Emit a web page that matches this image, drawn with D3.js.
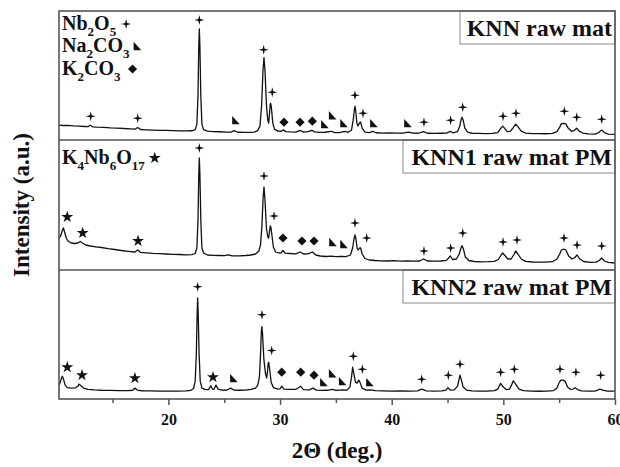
<!DOCTYPE html>
<html>
<head>
<meta charset="utf-8">
<script src="https://cdn.jsdelivr.net/npm/d3@7"></script>
<style>
  body { margin: 0; background: #fff; }
  svg { display: block; font-family: "Liberation Serif", "Times New Roman", serif; font-weight: bold; }
</style>
</head>
<body>
<svg id="chart" width="620" height="467"></svg>
<script>
// XRD patterns, [2theta, intensity a.u.]
var knnRaw = [[10.2,15],[10.6,14.6],[11.0,14.8],[11.5,14.2],[12.0,13.9],[12.5,13.6],[12.8,13.4],[13.0,14.8],[13.2,13.3],[13.6,12.9],[14.2,12.8],[14.8,12.3],[15.4,12.0],[16.0,11.6],[16.6,11.2],[17.0,10.9],[17.25,12.6],[17.5,10.6],[18.0,10.3],[18.6,10.0],[19.2,9.8],[19.8,9.6],[20.4,9.4],[21.0,9.2],[21.6,9.1],[22.1,9.3],[22.4,10.5],[22.55,16],[22.65,45],[22.72,95],[22.77,112],[22.82,95],[22.9,45],[23.0,16],[23.15,10.5],[23.5,9],[24.0,8.5],[24.6,8.3],[25.2,8.0],[25.6,8.0],[25.9,9.4],[26.2,7.8],[26.8,7.6],[27.3,7.6],[27.7,8.0],[28.0,9.5],[28.2,14],[28.35,35],[28.47,70],[28.56,83],[28.65,70],[28.78,35],[28.9,20],[28.98,17],[29.05,26],[29.12,36],[29.16,37],[29.22,33],[29.35,17],[29.5,11],[29.8,9],[30.1,8.8],[30.3,10.2],[30.5,8.5],[30.9,8.2],[31.4,8.0],[31.8,9.6],[32.1,8.0],[32.5,8.4],[32.85,9.8],[33.1,8.2],[33.5,7.6],[34.0,7.8],[34.6,8.8],[34.9,7.5],[35.3,7.4],[35.8,8.6],[36.1,7.8],[36.4,10],[36.55,20],[36.65,30],[36.71,34],[36.78,29],[36.88,17],[36.98,14],[37.1,17],[37.22,18],[37.35,12],[37.6,8],[38.0,7.4],[38.3,8.6],[38.6,7.3],[39.2,7.0],[39.8,7.2],[40.4,6.9],[41.0,7.0],[41.5,8.0],[41.9,6.9],[42.4,6.8],[42.85,8.4],[43.2,6.8],[43.8,6.7],[44.4,6.8],[44.9,7.0],[45.25,8.6],[45.5,7.2],[45.9,8.5],[46.1,14],[46.22,21],[46.3,23],[46.4,20],[46.55,12],[46.8,8],[47.2,6.8],[47.8,6.6],[48.4,6.5],[49.0,6.6],[49.5,7.5],[49.75,11.5],[49.94,14],[50.1,12],[50.35,8.5],[50.6,8.6],[50.85,12],[51.1,16],[51.3,13.5],[51.6,9],[52.0,7],[52.6,6.5],[53.2,6.4],[53.8,6.3],[54.4,6.6],[54.8,8.5],[55.05,13],[55.2,16.5],[55.4,16.8],[55.6,16.2],[55.8,12],[56.1,8.8],[56.35,9.5],[56.57,12],[56.8,9],[57.1,7],[57.6,6.2],[58.2,6.0],[58.55,7.5],[58.8,10],[59.05,7.5],[59.4,6.0],[60,5.6]];

var knn1RawPM = [[10.2,32],[10.35,34],[10.48,39],[10.59,42],[10.7,38],[10.85,32],[11.0,29],[11.3,27],[11.6,26.5],[11.9,27],[12.1,28.5],[12.3,27],[12.6,25],[13.0,24],[13.5,23.2],[14.0,22.5],[14.6,21.4],[15.2,20.5],[15.8,19.5],[16.4,18.7],[17.0,18.0],[17.25,20],[17.5,17.6],[18.0,17.2],[18.6,16.6],[19.2,16.3],[19.8,16.0],[20.4,15.6],[21.0,15.5],[21.6,15.2],[22.1,15.4],[22.4,16.5],[22.55,22],[22.65,50],[22.72,96],[22.77,112],[22.82,96],[22.9,50],[23.0,22],[23.15,17],[23.5,15],[24.0,14.7],[24.6,14.5],[25.0,14.3],[25.4,15.2],[25.7,14.2],[26.3,14.2],[26.9,14.5],[27.4,15],[27.8,16],[28.1,19],[28.25,25],[28.38,45],[28.48,72],[28.56,83],[28.65,70],[28.78,42],[28.9,33],[28.98,32],[29.05,38],[29.12,44],[29.18,43],[29.28,34],[29.4,23],[29.6,18],[29.9,17],[30.1,17.2],[30.25,19.5],[30.45,16.8],[30.9,16.5],[31.4,16.2],[31.8,18],[32.1,16],[32.5,16.2],[32.9,18],[33.2,15],[33.6,14],[34.1,13.5],[34.6,13.8],[35.0,13.3],[35.5,13.6],[35.9,13.4],[36.3,15],[36.5,22],[36.62,31],[36.71,35],[36.8,31],[36.9,22],[37.0,20],[37.12,22],[37.22,22],[37.35,16],[37.6,11.5],[38.0,10],[38.5,9.5],[39.0,9.2],[39.6,9.0],[40.2,9.3],[40.8,8.9],[41.4,9.1],[42.0,8.9],[42.5,9.0],[42.85,11],[43.2,9],[43.8,8.8],[44.4,9.0],[44.9,9.6],[45.25,14],[45.45,10.5],[45.8,11],[46.05,16],[46.2,22],[46.3,24.3],[46.42,21],[46.6,13],[46.9,9.5],[47.4,8.5],[48.0,8.2],[48.6,8.3],[49.2,8.6],[49.55,10.5],[49.8,15],[49.94,17],[50.1,15],[50.4,11],[50.7,11],[50.95,15.5],[51.1,19],[51.3,16],[51.6,11],[52.0,8.6],[52.6,8],[53.2,7.8],[53.8,7.9],[54.4,8.3],[54.8,11],[55.05,16],[55.2,20],[55.4,21],[55.6,20],[55.85,14],[56.15,11],[56.4,12.5],[56.6,15],[56.85,11],[57.2,8.5],[57.8,7.6],[58.3,7.8],[58.6,9.5],[58.8,12],[59.05,9],[59.4,7.6],[60,7]];

var knn2RawPM = [[10.2,14],[10.32,17],[10.42,21],[10.5,23],[10.6,20],[10.75,14],[10.95,11.5],[11.3,11],[11.7,11.3],[11.9,13],[12.0,15],[12.15,13.5],[12.4,11],[12.8,9.8],[13.4,9.2],[14.0,8.8],[14.8,8.6],[15.6,8.4],[16.4,8.4],[16.8,8.8],[17.0,11],[17.2,9],[17.6,8.3],[18.4,8.2],[19.2,8.0],[20.0,8.0],[20.8,8.0],[21.6,8.2],[22.0,8.6],[22.25,10.5],[22.4,18],[22.5,45],[22.57,85],[22.62,102],[22.67,85],[22.75,45],[22.85,18],[23.0,11],[23.3,9.5],[23.6,9.5],[23.79,13.3],[23.95,9.8],[24.1,10],[24.26,14],[24.45,10],[24.8,9],[25.2,8.8],[25.58,11],[25.85,9],[26.3,8.8],[26.9,9],[27.4,9.6],[27.8,11],[28.0,14],[28.15,22],[28.25,45],[28.32,67],[28.37,73],[28.43,66],[28.55,40],[28.7,25],[28.8,21],[28.87,27],[28.93,36],[28.98,37],[29.06,31],[29.2,17],[29.4,11.5],[29.8,10],[30.0,10.3],[30.15,13],[30.35,10],[30.8,9.6],[31.4,9.6],[31.85,12.8],[32.1,9.5],[32.6,9.2],[32.95,11],[33.25,9],[33.7,8.6],[34.2,8.8],[34.7,9.8],[35.0,8.6],[35.6,9.2],[36.0,9],[36.25,12],[36.4,22],[36.5,32],[36.6,26],[36.75,17],[36.9,16],[37.05,19],[37.15,17],[37.35,11],[37.7,9],[38.1,9.2],[38.5,8.5],[39.2,8.2],[40.0,8.0],[40.8,8.2],[41.6,8.0],[42.3,8.2],[42.71,10],[43.1,8.2],[43.8,8],[44.5,8.2],[44.85,9],[45.04,11.3],[45.25,9],[45.6,9.2],[45.9,13],[46.02,19],[46.12,24],[46.22,20],[46.4,12],[46.7,9],[47.2,8.2],[47.8,8],[48.5,8],[49.2,8.4],[49.5,10],[49.76,15.7],[49.95,12.5],[50.25,9.5],[50.55,10],[50.75,14.5],[50.89,18.3],[51.1,15],[51.4,10],[51.8,8.4],[52.5,8],[53.2,7.8],[53.9,8],[54.5,8.5],[54.8,11],[55.0,16.5],[55.15,19],[55.35,19],[55.55,17.5],[55.75,12],[56.0,9.8],[56.25,10],[56.42,11.3],[56.65,9.5],[57.0,8.2],[57.6,7.9],[58.2,8.0],[58.45,9],[58.65,10],[58.9,9],[59.3,8],[60,8]];

// phase markers, [2theta, intensity]
var nb2o5Marks1 = [[13.04,24],[17.25,22],[22.77,121],[28.53,91],[29.3,48],[36.71,45],[37.43,27],[42.89,18],[45.28,20],[46.36,33],[49.97,24],[51.13,27],[55.46,29],[56.57,23],[58.81,21]];
var na2co3Marks1 = [[26.05,20],[34.02,16],[34.71,25],[35.73,17],[38.41,17],[41.46,17]];
var k2co3Marks1 = [[30.35,18],[31.79,18],[32.89,19]];

var nb2o5Marks2 = [[22.77,122],[28.56,94],[29.46,54],[36.71,47],[37.76,32],[42.89,19],[45.28,22],[46.36,37],[49.97,28],[51.22,30],[55.43,32],[56.6,25],[58.81,24]];
var na2co3Marks2 = [[34.74,28],[35.73,26]];
var k2co3Marks2 = [[30.26,32],[31.96,29],[33.04,29]];
var k4nb6o17Marks2 = [[10.94,53],[12.32,37],[17.28,29]];

var nb2o5Marks3 = [[22.62,113],[28.38,85],[29.25,49],[36.56,43],[37.37,30],[42.69,20],[45.07,24],[46.12,35],[49.76,27],[50.98,30],[55.07,30],[56.5,27],[58.72,24]];
var na2co3Marks3 = [[25.87,21],[33.93,17],[34.71,26],[35.61,18],[38.05,17]];
var k2co3Marks3 = [[30.15,27],[31.85,27],[33.04,24]];
var k4nb6o17Marks3 = [[10.94,32],[12.26,24],[17.0,21],[23.99,22]];

var sampleNames = ["KNN raw mat", "KNN1 raw mat PM", "KNN2 raw mat PM"];
var majorTicks = [20, 30, 40, 50, 60];
var minorTicks = [15, 25, 35, 45, 55];

var svg = d3.select("#chart");
var left = 59, right = 615;
var bounds = [11, 140, 270, 399];
var frameColor = "#555";

var x = d3.scaleLinear().domain([10.2, 60]).range([left, right]);

var shapes = {
  cross: "M0,-5L1,-1L5,0L1,1L0,5L-1,1L-5,0L-1,-1Z",
  tri: "M-3.8,-4.2L-3.8,4.2L3.8,4.2Z",
  diamond: "M0,-4.6L4.6,0L0,4.6L-4.6,0Z",
  star: d3.symbol().type(d3.symbolStar).size(44)()
};

var panels = [
  { data: knnRaw, marks: [[nb2o5Marks1, "cross"], [na2co3Marks1, "tri"], [k2co3Marks1, "diamond"]], boxX: 460 },
  { data: knn1RawPM, marks: [[nb2o5Marks2, "cross"], [na2co3Marks2, "tri"], [k2co3Marks2, "diamond"], [k4nb6o17Marks2, "star"]], boxX: 403 },
  { data: knn2RawPM, marks: [[nb2o5Marks3, "cross"], [na2co3Marks3, "tri"], [k2co3Marks3, "diamond"], [k4nb6o17Marks3, "star"]], boxX: 403 }
];

panels.forEach(function(p, i) {
  var top = bounds[i], bottom = bounds[i + 1];
  var y = d3.scaleLinear().domain([0, 130]).range([bottom, top]);
  var g = svg.append("g");

  // sample label box
  g.append("rect")
    .attr("x", p.boxX).attr("y", top)
    .attr("width", right - p.boxX).attr("height", 33)
    .attr("fill", "#fff").attr("stroke", "#8a8a8a").attr("stroke-width", 1);
  g.append("text")
    .attr("x", right - 3).attr("y", top + 25)
    .attr("text-anchor", "end")
    .style("font-size", "24px")
    .attr("fill", "#111")
    .text(sampleNames[i]);

  var line = d3.line()
    .x(function(d) { return x(d[0]); })
    .y(function(d) { return y(d[1]); });

  g.append("path")
    .datum(p.data)
    .attr("d", line)
    .attr("fill", "none")
    .attr("stroke", "#111")
    .attr("stroke-width", 1.3)
    .attr("stroke-linejoin", "round");

  p.marks.forEach(function(m) {
    g.selectAll(null)
      .data(m[0])
      .enter().append("path")
      .attr("d", shapes[m[1]])
      .attr("fill", "#111")
      .attr("transform", function(d) { return "translate(" + x(d[0]) + "," + y(d[1]) + ")"; });
  });
});

// legend (phase names with subscripts)
var legend = [
  { parts: [["Nb", 0], ["2", 1], ["O", 0], ["5", 1]], shape: "cross", y: 30, gap: 10 },
  { parts: [["Na", 0], ["2", 1], ["CO", 0], ["3", 1]], shape: "tri", y: 52, gap: 8 },
  { parts: [["K", 0], ["2", 1], ["CO", 0], ["3", 1]], shape: "diamond", y: 75, gap: 12 },
  { parts: [["K", 0], ["4", 1], ["Nb", 0], ["6", 1], ["O", 0], ["17", 1]], shape: "star", y: 164, gap: 10 }
];

legend.forEach(function(l) {
  var t = svg.append("text")
    .attr("x", 62).attr("y", l.y)
    .attr("fill", "#111")
    .style("font-size", "20px");
  var sub = false;
  l.parts.forEach(function(pt) {
    var s = t.append("tspan").text(pt[0]);
    if (pt[1] && !sub) { s.attr("dy", 6).style("font-size", "13px"); sub = true; }
    else if (pt[1]) { s.style("font-size", "13px"); }
    else if (sub) { s.attr("dy", -6); sub = false; }
  });
  var w = t.node().getComputedTextLength();
  svg.append("path")
    .attr("d", shapes[l.shape])
    .attr("fill", "#111")
    .attr("transform", "translate(" + (62 + w + l.gap) + "," + (l.y - 6) + ")");
});

// frame and separators
svg.append("rect")
  .attr("x", left).attr("y", bounds[0])
  .attr("width", right - left).attr("height", bounds[3] - bounds[0])
  .attr("fill", "none").attr("stroke", frameColor).attr("stroke-width", 1.6);
[bounds[1], bounds[2]].forEach(function(b) {
  svg.append("line")
    .attr("x1", left).attr("x2", right).attr("y1", b).attr("y2", b)
    .attr("stroke", frameColor).attr("stroke-width", 1.6);
});

// x axis
var axisMajor = svg.append("g")
  .attr("transform", "translate(0," + bounds[3] + ")")
  .call(d3.axisBottom(x).tickValues(majorTicks).tickSize(6).tickPadding(9).tickFormat(d3.format("d")));
var axisMinor = svg.append("g")
  .attr("transform", "translate(0," + bounds[3] + ")")
  .call(d3.axisBottom(x).tickValues(minorTicks).tickSize(4).tickFormat(""));
[axisMajor, axisMinor].forEach(function(a) {
  a.select(".domain").remove();
  a.selectAll(".tick line").attr("stroke", frameColor).attr("stroke-width", 1.5);
});
axisMajor.selectAll(".tick text")
  .attr("fill", "#111")
  .style("font-family", "'Liberation Serif', 'Times New Roman', serif")
  .style("font-weight", "bold")
  .style("font-size", "16px");

svg.append("text")
  .attr("x", 337).attr("y", 458)
  .attr("text-anchor", "middle")
  .attr("fill", "#111")
  .style("font-size", "23px")
  .text("2Θ (deg.)");

svg.append("text")
  .attr("transform", "translate(29,205) rotate(-90)")
  .attr("text-anchor", "middle")
  .attr("fill", "#111")
  .style("font-size", "23px")
  .text("Intensity (a.u.)");
</script>
</body>
</html>
